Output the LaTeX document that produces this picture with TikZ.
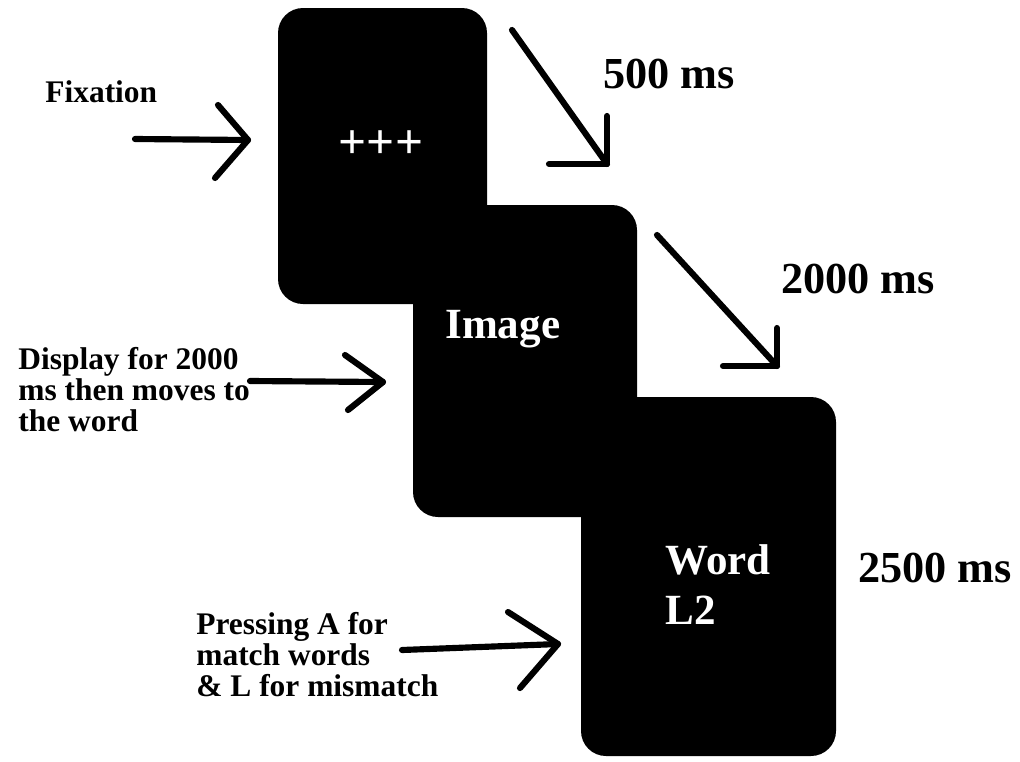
\documentclass[tikz,border=0pt]{standalone}
\usepackage{fontspec}
\setmainfont{Liberation Serif}

\begin{document}
\begin{tikzpicture}[x=0.02cm,y=-0.02cm,
  pen/.style={line width=3.5pt, line cap=round, line join=round},
  card/.style={fill=black, rounded corners=0.5cm},
  cardtext/.style={text=white, font=\bfseries\fontsize{24.5}{28.5}\selectfont, inner sep=0pt},
  notetext/.style={font=\bfseries\fontsize{17.9}{17.6}\selectfont, inner sep=0pt, align=left},
  timelabel/.style={font=\bfseries\fontsize{25.2}{28}\selectfont, inner sep=0pt}]
\useasboundingbox (0,0) rectangle (1020,761);

%cards
\fill[card] (278,8) rectangle (487,304);
\fill[card] (413,205) rectangle (637,517);
\fill[card] (581,397) rectangle (836,756);

\node[cardtext, font=\bfseries\fontsize{28}{28}\selectfont] (cross) at (381,145) {+++};
\node[cardtext, anchor=base west] (image) at (445,338) {Image};
\node[cardtext, anchor=north west, align=left] (word) at (665,544) {Word\\L2};

%times
\node[timelabel, anchor=base west] (t500) at (603,88) {500 ms};
\node[timelabel, anchor=base west] (t2000) at (781,293) {2000 ms};
\node[timelabel, anchor=base west] (t2500) at (858,582) {2500 ms};

%notes
\node[notetext, anchor=base west] (fix) at (45,102) {Fixation};
\node[notetext, anchor=north west] (display) at (18,347) {Display for 2000\\ms then moves to\\the word};
\node[notetext, anchor=north west] (press) at (196,612) {Pressing A for\\match words\\\& L for mismatch};

%arrows
\coordinate (F0) at (135,139);
\coordinate (F1) at (248,140);
\draw[pen] (F0) -- (F1);
\draw[pen] (F1) ++(-30,-35) -- (F1) -- ++(-33,38);

\coordinate (T0) at (512,30);
\coordinate (T1) at (607,164);
\draw[pen] (T0) -- (T1);
\draw[pen] (T1) ++(0,-48) -- (T1) -- ++(-58,0);

\coordinate (U0) at (657,235);
\coordinate (U1) at (777,366);
\draw[pen] (U0) -- (U1);
\draw[pen] (U1) ++(0,-38) -- (U1) -- ++(-54,0);

\coordinate (D0) at (250,381);
\coordinate (D1) at (383,382);
\draw[pen] (D0) -- (D1);
\draw[pen] (D1) ++(-38,-27) -- (D1) -- ++(-35,28);

\coordinate (P0) at (402,650);
\coordinate (P1) at (558,644);
\draw[pen] (P0) -- (P1);
\draw[pen] (P1) ++(-50,-32) -- (P1) -- ++(-38,44);
\end{tikzpicture}
\end{document}
